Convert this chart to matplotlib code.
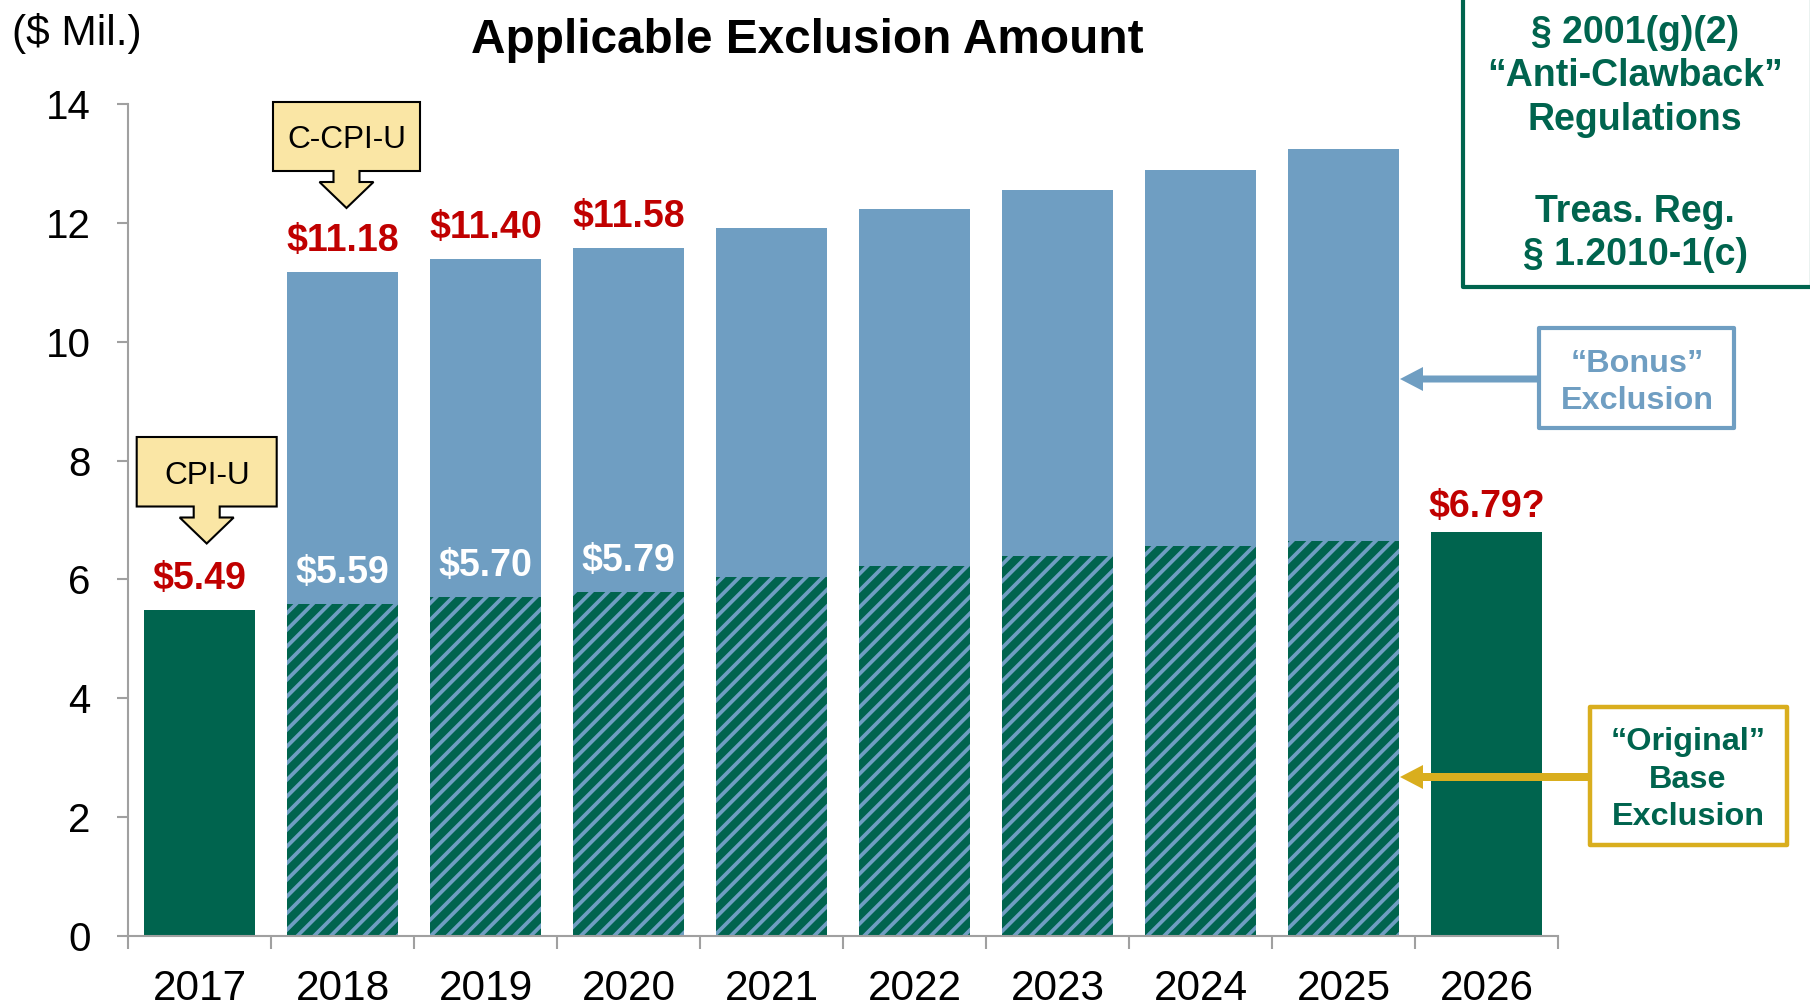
import numpy as np
import matplotlib
matplotlib.use('Agg')
import matplotlib.pyplot as plt
from matplotlib.patches import Polygon, Rectangle
from matplotlib.transforms import Affine2D

plt.rcParams['font.family'] = ['Liberation Sans', 'DejaVu Sans']
plt.rcParams['hatch.linewidth'] = 2.7

# data ($ millions)
years = ['2017', '2018', '2019', '2020', '2021', '2022', '2023', '2024', '2025', '2026']
total = [5.49, 11.18, 11.40, 11.58, 11.91, 12.23, 12.55, 12.89, 13.25, 6.79]
base = [5.49, 5.59, 5.70, 5.79, 6.04, 6.22, 6.39, 6.56, 6.65, 6.79]
bonus_years = [1, 2, 3, 4, 5, 6, 7, 8]
solid_years = [0, 9]
red_idx = [0, 1, 2, 3, 9]
red_text = ['$5.49', '$11.18', '$11.40', '$11.58', '$6.79?']
white_idx = [1, 2, 3]
white_text = ['$5.59', '$5.70', '$5.79']

GREEN = '#00644E'
BLUE = '#6F9EC2'
RED = '#C00000'
GOLD = '#D9AE1E'
YELLOW = '#FAE6A5'
GREY = '#A0A0A0'

W, H = 1810, 1006
fig = plt.figure(figsize=(W / 100, H / 100), dpi=100)
pix = Affine2D().scale(1 / W, -1 / H).translate(0, 1) + fig.transFigure

ax = fig.add_axes([128 / W, 1 - 936 / H, (1558 - 128) / W, (936 - 104) / H])
x = np.arange(len(years))
bw = 0.77

tb = [total[i] for i in bonus_years]
bb = [base[i] for i in bonus_years]
ax.bar(bonus_years, tb, width=bw, color=BLUE, linewidth=0)
ax.bar(bonus_years, bb, width=bw, color=GREEN, edgecolor=BLUE, hatch='//', linewidth=0)
ax.bar(solid_years, [total[i] for i in solid_years], width=bw, color=GREEN, linewidth=0)

for i, t in zip(red_idx, red_text):
    off = 18 if i == 9 else 22
    ax.annotate(t, (i, total[i]), xytext=(0, off), textcoords='offset points',
                ha='center', va='center', color=RED, fontsize=27, fontweight='bold')
for i, t in zip(white_idx, white_text):
    ax.annotate(t, (i, base[i]), xytext=(0, 22.5), textcoords='offset points',
                ha='center', va='center', color='white', fontsize=27, fontweight='bold')

ax.set_xlim(-0.5, 9.5)
ax.set_ylim(0, 14)
ax.set_yticks(range(0, 15, 2))
ax.set_xticks(x)
ax.set_xticklabels(years)
ax.set_xticks(np.arange(-0.5, 10, 1), minor=True)
ax.tick_params(axis='x', which='major', length=0, pad=24, labelsize=30.5)
ax.tick_params(axis='x', which='minor', length=9, width=1.5, color=GREY)
ax.tick_params(axis='y', length=8, width=1.5, color=GREY, pad=19, labelsize=29)
for s in ['top', 'right']:
    ax.spines[s].set_visible(False)
for s in ['left', 'bottom']:
    ax.spines[s].set_color(GREY)
    ax.spines[s].set_linewidth(1.5)

fig.text(807, 53, 'Applicable Exclusion Amount', transform=pix, ha='center',
         va='baseline', fontsize=34.4, fontweight='bold')
fig.text(12, 45, '($ Mil.)', transform=pix, ha='left', va='baseline', fontsize=30.5)


def callout(cx, top, w, h, label, base_y):
    l, r, bot = cx - w / 2, cx + w / 2, top + h
    hb = bot + 11
    pts = [(l, top), (r, top), (r, bot), (cx + 13, bot), (cx + 13, hb), (cx + 27, hb),
           (cx, hb + 26), (cx - 27, hb), (cx - 13, hb), (cx - 13, bot), (l, bot)]
    fig.add_artist(Polygon(pts, closed=True, transform=pix, facecolor=YELLOW,
                           edgecolor='black', linewidth=1.5, joinstyle='miter'))
    fig.text(cx, base_y, label, transform=pix, ha='center', va='baseline', fontsize=22.7)


callout(346.5, 102, 147, 69, 'C-CPI-U', 148)
callout(206.7, 437, 140, 69.5, 'CPI-U', 484)


def left_arrow(x0, x1, y, color, t, hl, hw):
    pts = [(x0, y - t / 2), (x1 + hl, y - t / 2), (x1 + hl, y - hw / 2), (x1, y),
           (x1 + hl, y + hw / 2), (x1 + hl, y + t / 2), (x0, y + t / 2)]
    fig.add_artist(Polygon(pts, closed=True, transform=pix, facecolor=color, linewidth=0))


def box(l, t, r, b, color, lw):
    fig.add_artist(Rectangle((l, t), r - l, b - t, transform=pix, facecolor='white',
                             edgecolor=color, linewidth=lw, joinstyle='round'))


# anti-clawback box (top right, runs off the page)
box(1463, -10, 1812, 287, GREEN, 3)
for s, yb in zip(['§ 2001(g)(2)', '“Anti-Clawback”', 'Regulations', 'Treas. Reg.', '§ 1.2010-1(c)'],
                 [43, 86, 130, 222, 265]):
    fig.text(1635, yb, s, transform=pix, ha='center', va='baseline', fontsize=27,
             fontweight='bold', color=GREEN)

# bonus exclusion box
left_arrow(1541, 1400, 379, BLUE, 7, 23, 24)
box(1539, 328, 1734, 428, BLUE, 3)
fig.text(1637, 372, '“Bonus”', transform=pix, ha='center', va='baseline', fontsize=23.3,
         fontweight='bold', color=BLUE)
fig.text(1637, 409, 'Exclusion', transform=pix, ha='center', va='baseline', fontsize=23.3,
         fontweight='bold', color=BLUE)

# original base exclusion box
left_arrow(1592, 1400, 777, GOLD, 8, 23, 24)
box(1590, 707, 1787, 845, GOLD, 3.2)
for s, yb in zip(['“Original”', 'Base', 'Exclusion'], [750, 788, 825]):
    fig.text(1688, yb, s, transform=pix, ha='center', va='baseline', fontsize=23.3,
             fontweight='bold', color=GREEN)

fig.savefig('out.png', dpi=100, facecolor='white')
